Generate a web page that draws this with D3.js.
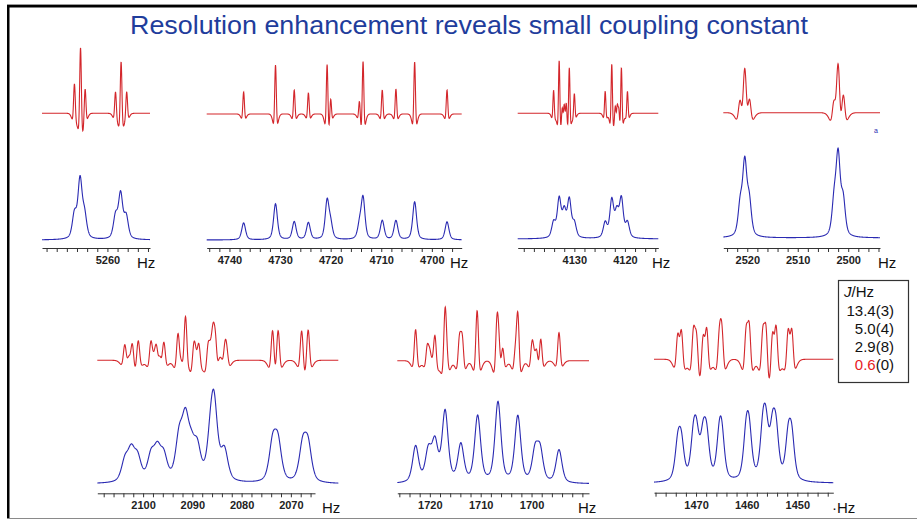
<!DOCTYPE html>
<html>
<head>
<meta charset="utf-8">
<script src="https://cdn.jsdelivr.net/npm/d3@7"></script>
<style>
  html, body { margin: 0; padding: 0; background: #fff; }
  svg { display: block; }
  text { font-family: "Liberation Sans", Arial, sans-serif; }
</style>
</head>
<body>
<svg id="fig" width="917" height="520"></svg>
<script>
// ---- spectral lines: [frequency / Hz, intensity] ----
// red = resolution-enhanced trace, blue = normal trace

const h5260Red  = [[5266.5,0.30],[5265.3,0.67],[5264.4,0.27],[5258.4,0.22],[5257.3,0.52],[5256.2,0.22]];
const h5260Blue = [[5266.5,0.24],[5265.4,0.58],[5264.5,0.22],[5258.4,0.22],[5257.4,0.44],[5256.3,0.22]];

const h4720Red  = [[4737.2,0.22],[4730.9,0.49],[4727.2,0.24],[4724.4,0.21],[4720.7,0.51],[4720.0,0.19],
                   [4714.3,0.17],[4713.6,0.54],[4709.8,0.24],[4707.1,0.25],[4703.4,0.52],[4697.0,0.24]];
const h4720Blue = [[4737.2,0.17],[4730.9,0.36],[4727.2,0.18],[4724.4,0.17],[4720.7,0.38],[4720.0,0.14],
                   [4714.3,0.13],[4713.6,0.41],[4709.8,0.19],[4707.1,0.19],[4703.4,0.38],[4697.0,0.18]];

const h4125Red  = [[4134.1,0.23],[4133.0,0.54],[4132.4,0.13],[4132.0,0.15],[4131.6,0.17],[4131.0,0.47],[4130.0,0.20],
                   [4123.9,0.22],[4122.6,0.50],[4121.9,0.13],[4121.5,0.15],[4121.2,0.14],[4120.7,0.48],[4119.5,0.22]];
const h4125Blue = [[4134.1,0.15],[4133.0,0.38],[4132.0,0.25],[4131.0,0.37],[4130.0,0.14],
                   [4123.9,0.15],[4122.6,0.37],[4121.6,0.24],[4120.7,0.38],[4119.5,0.15]];

const h2510Red  = [[2521.4,0.23],[2520.5,0.53],[2519.6,0.24],[2502.8,0.24],[2502.0,0.58],[2501.0,0.28]];
const h2510Blue = [[2521.4,0.30],[2520.5,0.71],[2519.6,0.33],[2502.8,0.32],[2502.0,0.78],[2501.0,0.35]];

const h2085Red  = [[2103.7,0.19],[2102.9,0.12],[2102.2,0.22],[2101.0,0.22],
                   [2098.4,0.24],[2097.8,0.13],[2097.3,0.22],[2096.6,0.14],[2095.8,0.22],
                   [2092.9,0.32],[2092.2,0.15],[2091.4,0.50],[2090.7,0.06],[2089.7,0.21],[2089.3,0.12],[2088.7,0.22],
                   [2086.8,0.26],[2086.3,0.26],[2085.8,0.42],[2085.3,0.36],[2084.6,0.15],[2084.1,0.12],[2083.4,0.20],[2083.0,0.13],
                   [2073.7,0.34],[2072.6,0.34],[2067.8,0.32],[2066.5,0.33]];
const h2085Blue = [[2103.7,0.20],[2102.4,0.28],[2101.1,0.22],
                   [2098.4,0.24],[2097.1,0.28],[2095.8,0.23],
                   [2092.7,0.40],[2091.4,0.55],[2090.2,0.25],[2089.0,0.30],
                   [2086.3,0.30],[2085.6,0.70],[2083.5,0.30],
                   [2073.7,0.37],[2072.6,0.37],[2067.6,0.35],[2066.5,0.35]];

const h1710Red  = [[1722.8,0.31],[1720.5,0.20],[1720.0,0.18],[1719.5,0.10],[1719.0,0.29],[1717.0,0.52],[1716.6,0.12],
                   [1714.2,0.26],[1713.9,0.10],[1713.6,0.26],[1710.7,0.50],[1706.8,0.45],[1706.4,0.28],[1705.7,0.22],
                   [1703.2,0.20],[1702.7,0.50],[1699.9,0.22],[1699.5,0.13],[1699.0,0.20],[1698.2,0.26],[1694.6,0.28]];
const h1710Blue = [[1722.8,0.36],[1720.3,0.30],[1719.0,0.38],[1717.0,0.70],[1713.9,0.37],[1710.6,0.66],
                   [1706.6,0.80],[1702.7,0.66],[1699.3,0.30],[1698.3,0.30],[1694.6,0.33]];

const h1460Red  = [[1473.6,0.32],[1472.9,0.35],[1470.5,0.37],[1469.9,0.34],[1468.6,0.34],[1467.9,0.38],[1465.4,0.32],[1464.9,0.35],
                   [1460.1,0.38],[1459.5,0.41],[1456.8,0.38],[1456.2,0.42],[1454.9,0.38],[1454.2,0.41],[1451.8,0.37],[1451.1,0.37]];
const h1460Blue = [[1473.6,0.34],[1472.9,0.34],[1470.5,0.37],[1469.9,0.36],[1468.6,0.37],[1467.9,0.38],[1465.4,0.36],[1464.9,0.36],
                   [1460.1,0.41],[1459.5,0.41],[1456.8,0.43],[1456.2,0.43],[1454.9,0.43],[1454.2,0.42],[1451.8,0.39],[1451.1,0.39]];

// ---- tick labels of each frequency axis ----
const t5260 = [5260];
const t4720 = [4740, 4730, 4720, 4710, 4700];
const t4125 = [4130, 4120];
const t2510 = [2520, 2510, 2500];
const t2085 = [2100, 2090, 2080, 2070];
const t1710 = [1720, 1710, 1700];
const t1460 = [1470, 1460, 1450];

// ---- fitted coupling constants ----
const jValues = [13.4, 5.0, 2.9, 0.6];
const jErrors = [3, 4, 8, 0];

const titleText = "Resolution enhancement reveals small coupling constant";

// ---- layout of the seven spectrum panels ----
const panels = [
  {red: h5260Red, blue: h5260Blue, ticks: t5260, hz: [5272.9, 5251.6], x: [42, 150],   tr: 150,
   redBase: 113.3, blueBase: 240, axisY: 248, hzX: 137, redW: 0.40, blueW: 1.0},
  {red: h4720Red, blue: h4720Blue, ticks: t4720, hz: [4744.5, 4694.1], x: [206.7, 461.7], tr: 461.7,
   redBase: 114, blueBase: 240, axisY: 248, hzX: 450, redW: 0.38, blueW: 0.9},
  {red: h4125Red, blue: h4125Blue, ticks: t4125, hz: [4141.2, 4113.4], x: [517.7, 658.3], tr: 658.3,
   redBase: 113.3, blueBase: 239, axisY: 248, hzX: 652, redW: 0.32, blueW: 0.9},
  {red: h2510Red, blue: h2510Blue, ticks: t2510, hz: [2524.75, 2493.7], x: [723.3, 880], tr: 880,
   redBase: 112.7, blueBase: 238, axisY: 248, hzX: 878, redW: 0.75, blueW: 1.0},
  {red: h2085Red, blue: h2085Blue, ticks: t2085, hz: [2109.3, 2065.1], x: [97.3, 315], tr: 338.3,
   redBase: 360.3, blueBase: 484, axisY: 493.3, hzX: 322, redW: 0.70, blueW: 1.7},
  {red: h1710Red, blue: h1710Blue, ticks: t1710, hz: [1726.4, 1688.7], x: [397.3, 589], tr: 589,
   redBase: 360.7, blueBase: 484, axisY: 493.3, hzX: 578, redW: 0.62, blueW: 1.4},
  {red: h1460Red, blue: h1460Blue, ticks: t1460, hz: [1478.3, 1442.9], x: [654, 833.3], tr: 833.3,
   redBase: 359.3, blueBase: 483.3, axisY: 492.7, hzX: 832, hzDot: true, redW: 0.70, blueW: 1.3}
];

const RED = "#d3262b", BLUE = "#2a2ab2";
const PX_PER_UNIT = 100;       // intensity unit -> pixels
const NEG = 0.4, BROAD = 2.5;  // negative side-lobe of the enhanced line shape

// line shapes (w = full width at half height, Hz)
function gauss(d, w) { const t = 2 * d / w; return Math.exp(-Math.LN2 * t * t); }
function voigt(d, w) { const t = 2 * d / w; return 0.5 / (1 + t * t) + 0.5 * Math.exp(-Math.LN2 * t * t); }
function enhanced(d, w) { return (1 + NEG) * gauss(d, w) - NEG * gauss(d, BROAD * w); }

function spectrum(lines, shape, w, f0, f1, n) {
  const pts = [];
  for (let i = 0; i <= n; i++) {
    const f = f0 + (f1 - f0) * i / n;
    let y = 0;
    for (const [c, a] of lines) y += a * shape(f - c, w);
    pts.push([f, y]);
  }
  return pts;
}

const svg = d3.select("#fig");

// slide frame
svg.append("rect").attr("x", 7).attr("y", 4).attr("width", 910).attr("height", 1).attr("fill", "#9a9a9a");
svg.append("rect").attr("x", 7).attr("y", 5).attr("width", 910).attr("height", 2.5).attr("fill", "#000");
svg.append("rect").attr("x", 7).attr("y", 5).attr("width", 2.5).attr("height", 514).attr("fill", "#000");
svg.append("rect").attr("x", 7).attr("y", 518).attr("width", 910).attr("height", 1).attr("fill", "#8a8a8a");

// title
svg.append("text")
  .attr("x", 469).attr("y", 34)
  .attr("text-anchor", "middle")
  .attr("font-size", 26.5)
  .attr("textLength", 678).attr("lengthAdjust", "spacingAndGlyphs")
  .attr("fill", "#1f3d9c")
  .text(titleText);

panels.forEach(p => {
  const x = d3.scaleLinear().domain(p.hz).range(p.x);
  const fEnd = x.invert(p.tr);
  const n = Math.round((p.tr - p.x[0]) * 5);

  const yRed = d3.scaleLinear().domain([0, 1]).range([p.redBase, p.redBase - PX_PER_UNIT]);
  const yBlue = d3.scaleLinear().domain([0, 1]).range([p.blueBase, p.blueBase - PX_PER_UNIT]);

  const redPts = spectrum(p.red, enhanced, p.redW, p.hz[0], fEnd, n);
  const bluePts = spectrum(p.blue, voigt, p.blueW, p.hz[0], fEnd, n);

  svg.append("path")
    .attr("d", d3.line().x(d => x(d[0])).y(d => yRed(d[1]))(redPts))
    .attr("fill", "none").attr("stroke", RED).attr("stroke-width", 1.1);
  svg.append("path")
    .attr("d", d3.line().x(d => x(d[0])).y(d => yBlue(d[1]))(bluePts))
    .attr("fill", "none").attr("stroke", BLUE).attr("stroke-width", 1.1);

  // frequency axis: a tick every 2 Hz, labels where listed
  const lo = Math.ceil(Math.min(...p.hz) / 2) * 2, hi = Math.max(...p.hz);
  const tv = d3.range(lo, hi + 0.001, 2);
  const axis = d3.axisBottom(x).tickValues(tv).tickSize(4).tickSizeOuter(0).tickPadding(4.2)
    .tickFormat(v => p.ticks.includes(v) ? String(v) : "");
  const g = svg.append("g").attr("transform", `translate(0,${p.axisY})`).call(axis);
  g.select(".domain").attr("stroke", "#333");
  g.selectAll(".tick line").attr("stroke", "#333");
  g.selectAll(".tick text").attr("font-size", 11).attr("font-weight", "bold")
    .attr("fill", "#222").attr("font-family", "Liberation Sans, Arial, sans-serif");

  svg.append("text")
    .attr("x", p.hzX).attr("y", p.axisY + 20)
    .attr("font-size", 15).attr("fill", "#111")
    .text(p.hzDot ? "·Hz" : "Hz");
});

// small mark beside the 2510 Hz panel
svg.append("text").attr("x", 874).attr("y", 133).attr("font-size", 7).attr("fill", BLUE).text("a");

// coupling constant box
const box = svg.append("g");
box.append("rect").attr("x", 838.5).attr("y", 280.5).attr("width", 70).attr("height", 102)
  .attr("fill", "#fff").attr("stroke", "#333").attr("stroke-width", 1.2);
const head = box.append("text").attr("x", 844).attr("y", 297).attr("font-size", 15).attr("fill", "#111");
head.append("tspan").attr("font-style", "italic").text("J");
head.append("tspan").text("/Hz");
jValues.forEach((v, i) => {
  const t = box.append("text").attr("x", 894).attr("y", 316 + i * 18)
    .attr("text-anchor", "end").attr("font-size", 15).attr("fill", "#111");
  t.append("tspan").attr("fill", i === jValues.length - 1 ? "#e8201e" : "#111").text(v.toFixed(1));
  t.append("tspan").text(`(${jErrors[i]})`);
});
</script>
</body>
</html>
